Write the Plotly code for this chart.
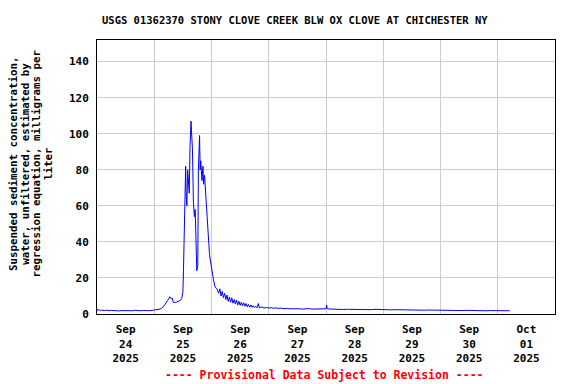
import plotly.graph_objects as go

title_text = "USGS 01362370 STONY CLOVE CREEK BLW OX CLOVE AT CHICHESTER NY"
y_label_lines = ["Suspended sediment concentration,", "water, unfiltered, estimated by",
                 "regression equation, milligrams per", "liter"]
footer_text = "---- Provisional Data Subject to Revision ----"

times = [
    "2025-09-24 00:00", "2025-09-24 00:15", "2025-09-24 00:45", "2025-09-24 01:30", "2025-09-24 02:00",
    "2025-09-24 03:00", "2025-09-24 04:00", "2025-09-24 05:00", "2025-09-24 06:00", "2025-09-24 07:00",
    "2025-09-24 08:00", "2025-09-24 09:00", "2025-09-24 10:00", "2025-09-24 11:00", "2025-09-24 12:00",
    "2025-09-24 13:00", "2025-09-24 14:00", "2025-09-24 15:00", "2025-09-24 16:00", "2025-09-24 17:00",
    "2025-09-24 18:00", "2025-09-24 19:00", "2025-09-24 20:00", "2025-09-24 21:00", "2025-09-24 22:00",
    "2025-09-24 23:00",
    "2025-09-25 00:00", "2025-09-25 01:00", "2025-09-25 02:00", "2025-09-25 03:00", "2025-09-25 03:30",
    "2025-09-25 04:00", "2025-09-25 04:30", "2025-09-25 05:00", "2025-09-25 05:30", "2025-09-25 06:00",
    "2025-09-25 06:30", "2025-09-25 07:00", "2025-09-25 07:30", "2025-09-25 08:00", "2025-09-25 09:00",
    "2025-09-25 10:00", "2025-09-25 11:00", "2025-09-25 11:30", "2025-09-25 12:00", "2025-09-25 12:15",
    "2025-09-25 12:40", "2025-09-25 13:00", "2025-09-25 13:10", "2025-09-25 13:20", "2025-09-25 13:40",
    "2025-09-25 14:00", "2025-09-25 14:20", "2025-09-25 14:40", "2025-09-25 15:00", "2025-09-25 15:25",
    "2025-09-25 15:45", "2025-09-25 16:00", "2025-09-25 16:25", "2025-09-25 16:50", "2025-09-25 17:10",
    "2025-09-25 17:35", "2025-09-25 17:50", "2025-09-25 18:15", "2025-09-25 18:30", "2025-09-25 19:00",
    "2025-09-25 19:15", "2025-09-25 19:30", "2025-09-25 20:00", "2025-09-25 20:25", "2025-09-25 20:40",
    "2025-09-25 21:05", "2025-09-25 21:35", "2025-09-25 22:00", "2025-09-25 22:30", "2025-09-25 22:45",
    "2025-09-25 23:10", "2025-09-25 23:30",
    "2025-09-26 00:10", "2025-09-26 00:50", "2025-09-26 01:30", "2025-09-26 02:15", "2025-09-26 03:00",
    "2025-09-26 03:30", "2025-09-26 04:00", "2025-09-26 04:30", "2025-09-26 05:00", "2025-09-26 05:30",
    "2025-09-26 06:00", "2025-09-26 06:30", "2025-09-26 07:00", "2025-09-26 07:30", "2025-09-26 08:00",
    "2025-09-26 08:30", "2025-09-26 09:00", "2025-09-26 09:30", "2025-09-26 10:00", "2025-09-26 10:30",
    "2025-09-26 11:00", "2025-09-26 11:30", "2025-09-26 12:00", "2025-09-26 12:30", "2025-09-26 13:00",
    "2025-09-26 13:30", "2025-09-26 14:00", "2025-09-26 14:30", "2025-09-26 15:00", "2025-09-26 15:30",
    "2025-09-26 16:00", "2025-09-26 16:30", "2025-09-26 17:00", "2025-09-26 17:30", "2025-09-26 18:00",
    "2025-09-26 18:30", "2025-09-26 19:00", "2025-09-26 19:40", "2025-09-26 20:00", "2025-09-26 21:00",
    "2025-09-26 22:00", "2025-09-26 23:00",
    "2025-09-27 00:00", "2025-09-27 01:00", "2025-09-27 02:00", "2025-09-27 03:00", "2025-09-27 04:00",
    "2025-09-27 05:00", "2025-09-27 06:00", "2025-09-27 07:00", "2025-09-27 08:00", "2025-09-27 09:00",
    "2025-09-27 10:00", "2025-09-27 11:00", "2025-09-27 12:00", "2025-09-27 13:00", "2025-09-27 14:00",
    "2025-09-27 15:00", "2025-09-27 16:00", "2025-09-27 17:00", "2025-09-27 18:00", "2025-09-27 19:00",
    "2025-09-27 20:00", "2025-09-27 21:00", "2025-09-27 22:00", "2025-09-27 23:00",
    "2025-09-28 00:00", "2025-09-28 00:15", "2025-09-28 00:30", "2025-09-28 01:00", "2025-09-28 03:00",
    "2025-09-28 05:00", "2025-09-28 07:00", "2025-09-28 09:00", "2025-09-28 11:00", "2025-09-28 13:00",
    "2025-09-28 15:00", "2025-09-28 17:00", "2025-09-28 19:00", "2025-09-28 21:00", "2025-09-28 23:00",
    "2025-09-29 01:00", "2025-09-29 03:00", "2025-09-29 05:00", "2025-09-29 07:00", "2025-09-29 09:00",
    "2025-09-29 11:00", "2025-09-29 13:00", "2025-09-29 15:00", "2025-09-29 17:00", "2025-09-29 19:00",
    "2025-09-29 21:00", "2025-09-29 23:00",
    "2025-09-30 01:00", "2025-09-30 03:00", "2025-09-30 05:00", "2025-09-30 07:00", "2025-09-30 09:00",
    "2025-09-30 11:00", "2025-09-30 13:00", "2025-09-30 15:00", "2025-09-30 17:00", "2025-09-30 19:00",
    "2025-09-30 21:00", "2025-09-30 23:00",
    "2025-10-01 01:00", "2025-10-01 03:00", "2025-10-01 05:00",
]

ssc_values = [
    3.0, 2.0, 2.4, 1.9, 2.2,
    1.9, 2.1, 1.8, 2.0, 1.8,
    1.9, 1.7, 1.9, 1.8, 1.7,
    1.9, 1.7, 1.8, 2.0, 1.7,
    1.8, 1.9, 1.7, 1.9, 1.8,
    1.9,
    2.0, 2.2, 2.6, 3.1, 3.6,
    4.4, 5.3, 6.0, 7.3, 8.2,
    9.6, 8.6, 8.9, 6.5, 6.4,
    7.0, 7.6, 8.6, 12.0, 24.0,
    50.0, 65.0, 82.0, 68.0, 60.0,
    80.0, 72.0, 67.0, 93.0, 107.0,
    98.0, 92.0, 62.0, 54.0, 58.0,
    30.0, 24.0, 27.0, 80.0, 99.0,
    80.0, 85.0, 74.0, 82.0, 72.0,
    77.0, 65.0, 55.0, 45.0, 39.0,
    33.0, 30.0,
    24.0, 19.0, 15.0, 14.0, 11.5,
    14.0, 10.0, 12.5, 9.0, 11.5,
    8.0, 10.5, 7.0, 9.5, 6.5,
    9.0, 6.0, 8.0, 5.5, 7.8,
    5.0, 7.0, 4.8, 6.5, 4.5,
    6.2, 4.3, 5.8, 4.0, 5.3,
    3.8, 5.0, 3.7, 4.6, 3.6,
    4.3, 3.5, 5.8, 3.5, 3.9,
    3.3, 3.6,
    3.3, 3.5, 3.2, 3.4, 3.1,
    3.3, 3.0, 3.2, 3.0, 2.9,
    3.0, 2.8, 3.0, 2.9, 2.7,
    2.9, 2.8, 3.0, 2.7, 2.8,
    2.9, 2.7, 2.9, 2.8,
    2.9, 5.0, 3.0, 2.8, 2.6,
    2.7, 2.5, 2.6, 2.5, 2.6,
    2.4, 2.5, 2.4, 2.6, 2.4,
    2.5, 2.3, 2.4, 2.3, 2.2,
    2.3, 2.2, 2.3, 2.1, 2.2,
    2.1, 2.2,
    2.1, 2.0, 2.1, 2.0, 1.9,
    2.0, 1.9, 2.0, 1.9, 1.8,
    1.9, 1.8,
    1.7, 1.9, 1.8,
]

day_label_positions = ["2025-09-24 12:00", "2025-09-25 12:00", "2025-09-26 12:00", "2025-09-27 12:00",
                       "2025-09-28 12:00", "2025-09-29 12:00", "2025-09-30 12:00", "2025-10-01 12:00"]
day_label_text = ["Sep<br>24<br>2025", "Sep<br>25<br>2025", "Sep<br>26<br>2025", "Sep<br>27<br>2025",
                  "Sep<br>28<br>2025", "Sep<br>29<br>2025", "Sep<br>30<br>2025", "Oct<br>01<br>2025"]
y_ticks = [0, 20, 40, 60, 80, 100, 120, 140]

FONT = "DejaVu Sans Mono"
GRID = "#cccccc"

# The page body has an 8px margin; size the figure so it fits the 576x384 window.
W, H = 568, 376
OFF = 8
ML, MR, MT, MB = 97 - OFF, 21, 40 - OFF, 70
PW = W - ML - MR
PH = H - MT - MB


def px_to_paper_x(px):
    return (px - OFF - ML) / PW


def px_to_paper_y(py):
    return (H - MB - (py - OFF)) / PH


fig = go.Figure()
fig.add_trace(go.Scatter(x=times, y=ssc_values, mode="lines",
                         line=dict(color="#0000ff", width=1), showlegend=False,
                         hoverinfo="skip"))

annotations = []
label_cols = [13.5, 25.2, 36.9, 48.6]
for line_text, cx in zip(y_label_lines, label_cols):
    annotations.append(dict(text=line_text, xref="paper", yref="paper",
                            x=px_to_paper_x(cx), y=px_to_paper_y(163.5),
                            xanchor="center", yanchor="middle", textangle=-90, showarrow=False,
                            font=dict(family=FONT, size=10.8, color="black", weight="bold")))
annotations.append(dict(text=footer_text, xref="paper", yref="paper",
                        x=px_to_paper_x(324), y=px_to_paper_y(375),
                        xanchor="center", yanchor="middle", showarrow=False,
                        font=dict(family=FONT, size=11.5, color="red", weight="bold")))
annotations.append(dict(text=title_text, xref="paper", yref="paper",
                        x=px_to_paper_x(295), y=px_to_paper_y(20),
                        xanchor="center", yanchor="middle", showarrow=False,
                        font=dict(family=FONT, size=10.5, color="black", weight="bold")))

fig.update_layout(
    width=W, height=H,
    margin=dict(l=ML, r=MR, t=MT, b=MB, pad=0),
    paper_bgcolor="white", plot_bgcolor="white",
    xaxis=dict(
        type="date",
        range=["2025-09-24 00:00", "2025-10-02 00:00"],
        tickmode="array", tickvals=day_label_positions, ticktext=day_label_text,
        showgrid=False, ticks="",
        tickfont=dict(family=FONT, size=11, color="black", weight="bold"),
        ticklabelstandoff=5,
        minor=dict(tick0="2025-09-24", dtick=86400000, showgrid=True, gridcolor=GRID,
                   gridwidth=1, ticks=""),
        showline=True, linecolor="black", linewidth=1, mirror=True,
        zeroline=False,
    ),
    yaxis=dict(
        range=[0, 152],
        tickmode="array", tickvals=y_ticks,
        showgrid=True, gridcolor=GRID, gridwidth=1, ticks="",
        tickfont=dict(family=FONT, size=11, color="black", weight="bold"),
        showline=True, linecolor="black", linewidth=1, mirror=True,
        zeroline=False, ticklabelstandoff=5,
    ),
    annotations=annotations,
)

fig.write_html("out.html")
